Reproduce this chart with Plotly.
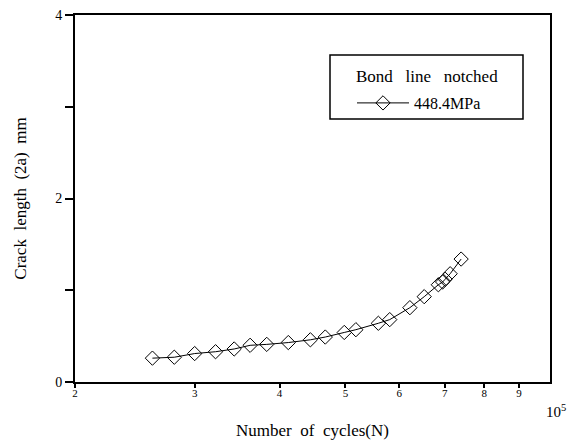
import plotly.graph_objects as go

# Number of cycles (x 10^5) and crack length (mm)
cycles = [2.60, 2.80, 3.00, 3.22, 3.43, 3.62, 3.83, 4.12, 4.44, 4.67,
          4.98, 5.18, 5.59, 5.81, 6.22, 6.53, 6.85, 6.95, 7.01, 7.13, 7.40]
crack = [0.26, 0.27, 0.31, 0.33, 0.36, 0.40, 0.41, 0.43, 0.46, 0.49,
         0.54, 0.57, 0.64, 0.68, 0.81, 0.93, 1.06, 1.09, 1.12, 1.18, 1.34]
series_name = "448.4MPa"
legend_title = "Bond\u00a0\u00a0\u00a0line\u00a0\u00a0\u00a0notched"
x_ticks = [2, 3, 4, 5, 6, 7, 8, 9]
x_ticktext = ["2", "3", "4", "5", "6", "7", "8", "9"]
y_ticks = [0, 2, 4]
y_ticktext = ["0", "2", "4"]
y_minor = [1, 3]

FONT = "Liberation Serif, Times New Roman, serif"

L, R, T, B = 75, 19, 15, 63
PW, PH = 569 - L - R, 445 - T - B


def px(xp):
    return (xp - L) / PW


def py(yp):
    return (445 - B - yp) / PH


fig = go.Figure()
fig.add_trace(go.Scatter(
    x=cycles, y=crack, mode="lines+markers", name=series_name,
    line=dict(color="black", width=1),
    marker=dict(symbol="diamond-open", size=11, color="black",
                line=dict(color="black", width=1)),
))

fig.update_layout(
    width=569, height=445,
    margin=dict(l=L, r=R, t=T, b=B, autoexpand=False),
    paper_bgcolor="white", plot_bgcolor="white",
    font=dict(family=FONT, color="black", size=13),
    showlegend=True,
    legend=dict(
        x=px(352), y=py(86), xanchor="left", yanchor="top",
        borderwidth=0, bgcolor="rgba(0,0,0,0)",
        font=dict(family=FONT, size=16),
        itemwidth=52,
    ),
    xaxis=dict(
        type="log", range=[0.30103, 1.0], automargin=False,
        tickvals=x_ticks, ticktext=x_ticktext,
        ticks="outside", ticklen=4, tickwidth=1.5, tickcolor="black",
        tickfont=dict(family=FONT, size=11),
        ticklabelstandoff=-4,
        showline=True, linewidth=2, linecolor="black", mirror=True,
        showgrid=False, zeroline=False,
        title=dict(text="Number\u00a0\u00a0of\u00a0\u00a0cycles(N)",
                   font=dict(family=FONT, size=17), standoff=26),
    ),
    yaxis=dict(
        range=[0, 4], automargin=False,
        tickvals=y_ticks, ticktext=y_ticktext,
        ticks="outside", ticklen=8, tickwidth=1.5, tickcolor="black",
        tickfont=dict(family=FONT, size=14),
        minor=dict(tickvals=y_minor, ticks="outside", ticklen=8,
                   tickwidth=1.5, tickcolor="black", showgrid=False),
        showline=True, linewidth=2, linecolor="black", mirror=True,
        showgrid=False, zeroline=False,
        title=dict(text="Crack\u00a0\u00a0length\u00a0\u00a0(2a)\u00a0\u00a0mm",
                   font=dict(family=FONT, size=17), standoff=24),
    ),
)

# legend frame and heading
fig.add_shape(type="rect", xref="paper", yref="paper",
              x0=px(330), x1=px(523), y0=py(119), y1=py(55),
              line=dict(color="black", width=1.5), fillcolor="rgba(0,0,0,0)")
fig.add_annotation(
    text=legend_title, xref="paper", yref="paper",
    x=px(427), y=py(76), xanchor="center", yanchor="middle", showarrow=False,
    font=dict(family=FONT, size=17),
)

fig.add_annotation(
    text="10<sup>5</sup>", xref="paper", yref="paper",
    x=px(568), y=py(411), xanchor="right", yanchor="middle", showarrow=False,
    font=dict(family=FONT, size=15),
)

fig.write_html("out.html", config={"displayModeBar": False},
               post_script="document.body.style.margin='0';")
